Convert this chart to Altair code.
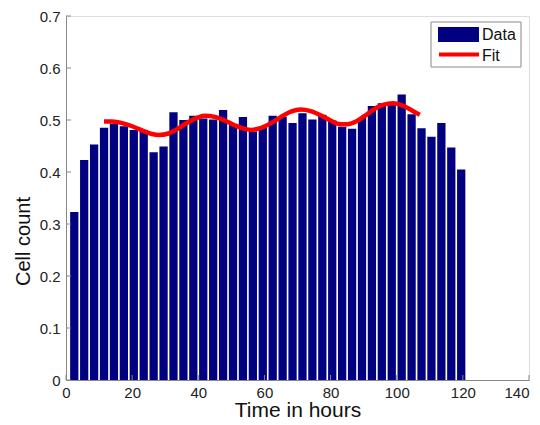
import altair as alt
import pandas as pd

# Histogram bin centres (hours) and heights
hours = [2.5, 5.5, 8.5, 11.5, 14.5, 17.5, 20.5, 23.5, 26.5, 29.5,
         32.5, 35.5, 38.5, 41.5, 44.5, 47.5, 50.5, 53.5, 56.5, 59.5,
         62.5, 65.5, 68.5, 71.5, 74.5, 77.5, 80.5, 83.5, 86.5, 89.5,
         92.5, 95.5, 98.5, 101.5, 104.5, 107.5, 110.5, 113.5, 116.5, 119.5]
counts = [0.323, 0.423, 0.453, 0.485, 0.493, 0.488, 0.481, 0.481, 0.438, 0.449,
          0.515, 0.500, 0.508, 0.503, 0.501, 0.519, 0.492, 0.506, 0.478, 0.486,
          0.508, 0.506, 0.494, 0.513, 0.501, 0.510, 0.499, 0.487, 0.483, 0.504,
          0.527, 0.532, 0.531, 0.549, 0.511, 0.484, 0.468, 0.494, 0.447, 0.405]

# Fit curve
fit_t = [11.5, 14, 17, 20, 23, 26, 28, 31, 34, 37, 40, 42, 45, 48, 51, 54, 56,
         59, 62, 65, 68, 71, 74, 77, 80, 83, 85, 88, 91, 94, 97, 99, 102, 105, 107]
fit_y = [0.497, 0.497, 0.494, 0.488, 0.480, 0.473, 0.471, 0.474, 0.484, 0.496,
         0.505, 0.508, 0.506, 0.499, 0.490, 0.483, 0.481, 0.485, 0.494, 0.506,
         0.516, 0.520, 0.517, 0.509, 0.499, 0.492, 0.492, 0.498, 0.511, 0.524,
         0.531, 0.532, 0.527, 0.517, 0.510]

x_ticks = [0, 20, 40, 60, 80, 100, 120, 140]
y_ticks = [0, 0.1, 0.2, 0.3, 0.4, 0.5, 0.6, 0.7]

W, H = 463, 364
FONT = "Liberation Sans"

xs = alt.Scale(domain=[0, 140], nice=False, zero=False)
ys = alt.Scale(domain=[0, 0.7], nice=False)

bars_df = pd.DataFrame({"t": hours, "c": counts})
fit_df = pd.DataFrame({"t": fit_t, "y": fit_y})

bars = alt.Chart(bars_df).mark_rect(color="#000080").transform_calculate(
    t0="datum.t - 1.25", t1="datum.t + 1.25"
).encode(
    x=alt.X("t0:Q", scale=xs, axis=alt.Axis(
        values=x_ticks, title="Time in hours", grid=False, tickSize=0,
        labelPadding=17, labelBaseline="alphabetic",
        labelAlign={"condition": {"test": "datum.value >= 140", "value": "right"},
                    "value": "center"},
        labelFontSize=15, titleFontSize=21,
        titleX=W / 2, titleY=36, titleBaseline="alphabetic", titleAlign="center",
        labelFont=FONT, titleFont=FONT, titleFontWeight="normal",
        labelColor="#222", titleColor="#111", domainColor="#888",
        labelFlush=False)),
    x2="t1:Q",
    y=alt.Y("c:Q", scale=ys, axis=alt.Axis(
        values=y_ticks, title="Cell count", grid=False, tickSize=0,
        labelPadding=6, labelFontSize=15, titleFontSize=20,
        titleX=-37, titleY=225, titleBaseline="alphabetic", titleAlign="center",
        titleAngle=270,
        labelFont=FONT, titleFont=FONT, titleFontWeight="normal",
        labelColor="#222", titleColor="#111", domainColor="#888",
        format="~g", labelFlush=False)),
    y2=alt.datum(0),
)

fit = alt.Chart(fit_df).mark_line(color="#ff0000", strokeWidth=4.5,
                                   interpolate="monotone").encode(
    x=alt.X("t:Q", scale=xs), y=alt.Y("y:Q", scale=ys))

ytk = alt.Chart(pd.DataFrame({"v": y_ticks})).mark_rule(color="#888").encode(
    y=alt.Y("v:Q", scale=ys), x=alt.value(0), x2=alt.value(5))
xtk = alt.Chart(pd.DataFrame({"v": x_ticks})).mark_rule(color="#888").encode(
    x=alt.X("v:Q", scale=xs), y=alt.value(H), y2=alt.value(H - 5))

# Legend
leg_box = alt.Chart(pd.DataFrame({"a": [0]})).mark_rect(
    fill="white", stroke="#888", strokeWidth=1).encode(
    x=alt.value(365), x2=alt.value(455), y=alt.value(6), y2=alt.value(51))
leg_sw = alt.Chart(pd.DataFrame({"a": [0]})).mark_rect(color="#000080").encode(
    x=alt.value(372), x2=alt.value(413), y=alt.value(11), y2=alt.value(26))
leg_ln = alt.Chart(pd.DataFrame({"a": [0]})).mark_rule(
    color="#ff0000", strokeWidth=4).encode(
    x=alt.value(373), x2=alt.value(413), y=alt.value(38.5))
leg_t1 = alt.Chart(pd.DataFrame({"a": [0]})).mark_text(
    align="left", baseline="middle", fontSize=16, font=FONT, color="#111").encode(
    x=alt.value(416), y=alt.value(19), text=alt.value("Data"))
leg_t2 = alt.Chart(pd.DataFrame({"a": [0]})).mark_text(
    align="left", baseline="middle", fontSize=16, font=FONT, color="#111").encode(
    x=alt.value(416), y=alt.value(40), text=alt.value("Fit"))

chart = alt.layer(bars, fit, ytk, xtk, leg_box, leg_sw, leg_ln, leg_t1, leg_t2).properties(
    width=W, height=H,
    autosize=alt.AutoSizeParams(type="none"),
    padding={"left": 58, "top": 8, "right": 3, "bottom": 37},
).configure_view(stroke=None).configure(background="white")

chart.save("out.html", embed_options={"renderer": "svg", "actions": False})
